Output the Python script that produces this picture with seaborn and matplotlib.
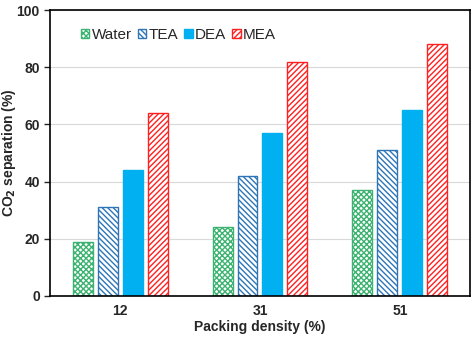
import pandas as pd
import matplotlib
matplotlib.use("Agg")
import matplotlib.pyplot as plt
import seaborn as sns

# Values
packing = ['12', '31', '51']
solvents = ['Water', 'TEA', 'DEA', 'MEA']
water = [19, 24, 37]
tea = [31, 42, 51]
dea = [44, 57, 65]
mea = [64, 82, 88]

df = pd.DataFrame({
    'Packing': packing * 4,
    'Solvent': [s for s in solvents for _ in packing],
    'Sep': water + tea + dea + mea,
})

sns.set_style("white")
plt.rcParams['font.family'] = ['Liberation Sans', 'DejaVu Sans']
plt.rcParams['hatch.linewidth'] = 1.0

fig = plt.figure(figsize=(4.74, 3.39), dpi=100)
ax = fig.add_axes([0.106, 0.127, 0.885, 0.843])

sns.barplot(data=df, x='Packing', y='Sep', hue='Solvent', order=packing,
            hue_order=solvents, width=0.714, gap=0.2, legend=False, ax=ax)

# colour / hatch for each solvent
styles = {
    'Water': ('#3CB371', 'xxxxxx', False),
    'TEA': ('#2E75B6', '\\\\\\\\\\\\', False),
    'DEA': ('#00B0F0', '', True),
    'MEA': ('#FF2020', '//////', False),
}
for cont, name in zip(ax.containers, solvents):
    col, hatch, filled = styles[name]
    for p in cont:
        p.set_facecolor(col if filled else 'white')
        p.set_edgecolor(col)
        p.set_hatch(hatch)
        p.set_linewidth(1.0)

ax.legend(ax.containers, solvents, loc='upper left', bbox_to_anchor=(0.04, 0.985),
          ncol=4, frameon=False, fontsize=11, handlelength=0.55, handleheight=0.55,
          handletextpad=0.15, columnspacing=0.4)

ax.set_ylim(0, 100)
ax.set_xlim(-0.5, 2.5)
ax.set_yticks([0, 20, 40, 60, 80, 100])
ax.yaxis.grid(True, color='#D9D9D9', linewidth=0.8)
ax.set_axisbelow(True)

for s in ax.spines.values():
    s.set_visible(True)
    s.set_color('black')
    s.set_linewidth(1.2)

ax.tick_params(axis='y', direction='out', length=4, width=1, left=True, labelsize=10)
ax.tick_params(axis='x', length=0, labelsize=10, pad=6)
for lbl in ax.get_xticklabels() + ax.get_yticklabels():
    lbl.set_fontweight('bold')

ax.set_xlabel('Packing density (%)', fontsize=10, fontweight='bold', labelpad=1)
ax.set_ylabel('CO$_\\mathbf{2}$ separation (%)', fontsize=10, fontweight='bold')
ax.yaxis.set_label_coords(-0.077, 0.5)

fig.savefig('out.png', dpi=100)
